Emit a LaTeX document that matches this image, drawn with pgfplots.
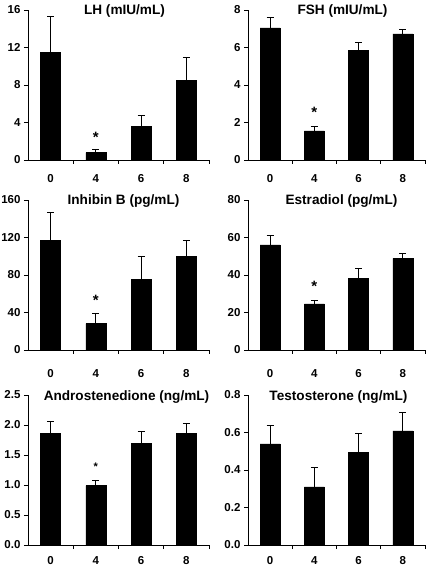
\documentclass[border=0pt]{standalone}
\usepackage{pgfplots}
\pgfplotsset{compat=1.18}
\usepackage{fontspec}
\setmainfont{Liberation Sans}
\pgfplotsset{
  panel/.style={
    scale only axis, height=150pt,
    axis x line=bottom, axis y line=left, axis line style={-, line width=0.8pt},
    xmin=-0.5, xmax=3.5, ymin=0,
    xtick={0,1,2,3}, xticklabels={0,4,6,8},
    minor xtick={0.5,1.5,2.5,3.5},
    major x tick style={draw=none},
    minor x tick style={line width=0.8pt, black},
    major y tick style={line width=0.8pt, black},
    tick align=outside, major tick length=4pt, minor tick length=4pt,
    tick label style={font=\bfseries\fontsize{11.5}{13}\selectfont},
    /pgf/number format/assume math mode=true,
    ybar, bar width=20pt, clip=false,
  },
  bars/.style={fill=black, draw=black, bar shift=0pt,
    error bars/.cd, y dir=plus, y explicit,
    error bar style={line width=0.8pt, black},
    error mark options={rotate=90, mark size=3.5pt, line width=0.8pt, black}},
}
\newcommand{\sigstar}[2]{\node[font=\bfseries\fontsize{15}{17}\selectfont, inner sep=0pt, yshift=-3pt] at (axis cs:#1,#2) {*};}
\newcommand{\ptitle}[2]{\node[font=\bfseries\fontsize{13.6}{15}\selectfont, anchor=base, inner sep=0pt, yshift=-5pt, xshift=#1] at (rel axis cs:0.5,1) {#2};}
\begin{document}
\begin{tikzpicture}
\path[use as bounding box] (0,0) rectangle (432pt,566pt);
% LH
\begin{axis}[panel, at={(28pt,406pt)}, anchor=south west, width=181pt,
  ymax=16, ytick={0,4,8,12,16}, xticklabel style={yshift=-7.4pt}]
\addplot[bars] coordinates {(0,11.5) +- (0,3.8) (1,0.78) +- (0,0.37) (2,3.58) +- (0,1.14) (3,8.48) +- (0,2.42)};
\sigstar{1}{2.7}
\ptitle{6pt}{LH (mIU/mL)}
\end{axis}
% FSH
\begin{axis}[panel, at={(248pt,406pt)}, anchor=south west, width=177pt,
  ymax=8, ytick={0,2,4,6,8}, xticklabel style={yshift=-7.4pt}]
\addplot[bars] coordinates {(0,7.05) +- (0,0.53) (1,1.55) +- (0,0.26) (2,5.85) +- (0,0.41) (3,6.73) +- (0,0.25)};
\sigstar{1}{2.7}
\ptitle{6pt}{FSH (mIU/mL)}
\end{axis}
% Inhibin B
\begin{axis}[panel, at={(28pt,216pt)}, anchor=south west, width=181pt,
  ymax=160, ytick={0,40,80,120,160}, xticklabel style={yshift=-11.8pt}]
\addplot[bars] coordinates {(0,116.8) +- (0,29.6) (1,28.2) +- (0,11.1) (2,75.4) +- (0,24.2) (3,100) +- (0,16.8)};
\sigstar{1}{56}
\ptitle{5pt}{Inhibin B (pg/mL)}
\end{axis}
% Estradiol
\begin{axis}[panel, at={(248pt,216pt)}, anchor=south west, width=177pt,
  ymax=80, ytick={0,20,40,60,80}, xticklabel style={yshift=-11.8pt}]
\addplot[bars] coordinates {(0,56.1) +- (0,5.2) (1,24.6) +- (0,1.9) (2,38.2) +- (0,5.2) (3,48.8) +- (0,2.7)};
\sigstar{1}{35.3}
\ptitle{5pt}{Estradiol (pg/mL)}
\end{axis}
% Androstenedione
\begin{axis}[panel, at={(28pt,21pt)}, anchor=south west, width=181pt,
  ymax=2.5, ytick={0,0.5,1,1.5,2,2.5}, xticklabel style={yshift=-3.8pt},
  yticklabel style={/pgf/number format/.cd, fixed, fixed zerofill, precision=1}]
\addplot[bars] coordinates {(0,1.86) +- (0,0.20) (1,0.99) +- (0,0.08) (2,1.69) +- (0,0.20) (3,1.86) +- (0,0.17)};
\node[font=\bfseries\fontsize{11}{13}\selectfont, inner sep=0pt, yshift=-2.5pt] at (axis cs:1,1.35) {*};
\ptitle{8pt}{Androstenedione (ng/mL)}
\end{axis}
% Testosterone
\begin{axis}[panel, at={(248pt,21pt)}, anchor=south west, width=177pt,
  ymax=0.8, ytick={0,0.2,0.4,0.6,0.8}, xticklabel style={yshift=-3.8pt},
  yticklabel style={/pgf/number format/.cd, fixed, fixed zerofill, precision=1}]
\addplot[bars] coordinates {(0,0.54) +- (0,0.097) (1,0.31) +- (0,0.104) (2,0.496) +- (0,0.10) (3,0.609) +- (0,0.097)};
\ptitle{2pt}{Testosterone (ng/mL)}
\end{axis}
\end{tikzpicture}
\end{document}
